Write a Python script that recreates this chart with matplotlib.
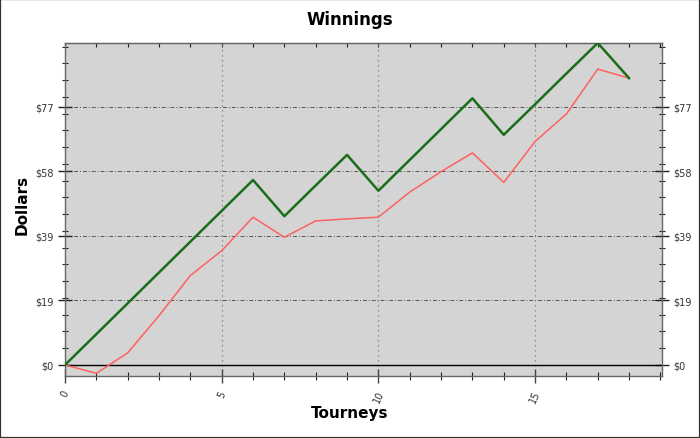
import matplotlib
matplotlib.use("Agg")
import matplotlib.pyplot as plt
from matplotlib.patches import Rectangle
from matplotlib.ticker import MultipleLocator, FixedLocator, NullFormatter, NullLocator

tourneys = list(range(19))
winnings = [0, 9.2, 18.4, 27.6, 36.8, 46.0, 55.2, 44.4, 53.6, 62.7, 52.0,
            61.2, 70.4, 79.6, 68.7, 77.8, 87.0, 96.1, 85.6]
net = [0, -2.5, 3.6, 14.7, 26.7, 34.1, 44.1, 38.1, 43.0, 43.6, 44.1,
       51.6, 57.7, 63.3, 54.5, 66.7, 74.9, 88.3, 85.6]
ytick_vals = [0, 19.25, 38.5, 57.75, 77]
ytick_labels = ['$0', '$19', '$39', '$58', '$77']
xtick_vals = [0, 5, 10, 15]
xtick_labels = ['0', '5', '10', '15']

fig = plt.figure(figsize=(7.0, 4.39), dpi=100)
ax = fig.add_axes([65/700, 1-377/439, (662-65)/700, (377-44)/439])
ax.set_facecolor('#d4d4d4')

ax.plot(tourneys, net, color='#ff6060', lw=1.1, zorder=3)
ax.plot(tourneys, winnings, color='#1a6e1a', lw=1.8, zorder=4)
ax.axhline(0, color='black', lw=1.0, zorder=2)

ax.set_xlim(0, 19.05)
ax.set_ylim(-3.3, 96.1)

ax.yaxis.set_major_locator(FixedLocator(ytick_vals))
ax.set_yticklabels(ytick_labels)
ax.yaxis.set_minor_locator(MultipleLocator(5))
ax.xaxis.set_major_locator(FixedLocator(xtick_vals))
ax.set_xticklabels(xtick_labels, rotation=65)
ax.xaxis.set_minor_locator(MultipleLocator(1))

for v in ytick_vals[1:]:
    ax.axhline(v, color='#555555', lw=0.7, ls=(0, (4, 2, 1, 2)), zorder=1)
for v in xtick_vals[1:]:
    ax.axvline(v, color='#777777', lw=0.9, ls=(0, (1, 3)), zorder=1)

ax.tick_params(axis='y', which='major', direction='inout', length=10, width=1.0,
               color='#222222', labelsize=7, labelcolor='#333333',
               left=True, right=True, labelleft=True, labelright=True, pad=3)
ax.tick_params(axis='y', which='minor', direction='inout', length=5, width=0.8,
               color='#222222', left=True, right=True)
ax.tick_params(axis='x', which='major', direction='inout', length=10, width=1.0,
               color='#444444', labelsize=7, labelcolor='#333333',
               bottom=True, top=False, pad=4)
ax.tick_params(axis='x', which='minor', direction='inout', length=6, width=0.8,
               color='#222222', bottom=True, top=False)

top = ax.secondary_xaxis('top')
top.xaxis.set_major_locator(MultipleLocator(1))
top.xaxis.set_minor_locator(NullLocator())
top.xaxis.set_major_formatter(NullFormatter())
top.tick_params(axis='x', direction='in', length=3, width=0.8, color='#222222')
top.spines['top'].set_color('#666666')

for s in ax.spines.values():
    s.set_color('#666666')
    s.set_linewidth(1.0)

fig.text(0.5, 1-20/439, 'Winnings', ha='center', va='center',
         fontsize=12, fontweight='bold')
fig.text(0.5, 1-414/439, 'Tourneys', ha='center', va='center',
         fontsize=11, fontweight='bold')
fig.text(22/700, 1-205/439, 'Dollars', ha='center', va='center',
         fontsize=11, fontweight='bold', rotation=90)

fig.patches.append(Rectangle((0, 0), 1, 1, transform=fig.transFigure,
                             fill=False, edgecolor='#333333', lw=1.6))

fig.savefig('out.png', dpi=100)
